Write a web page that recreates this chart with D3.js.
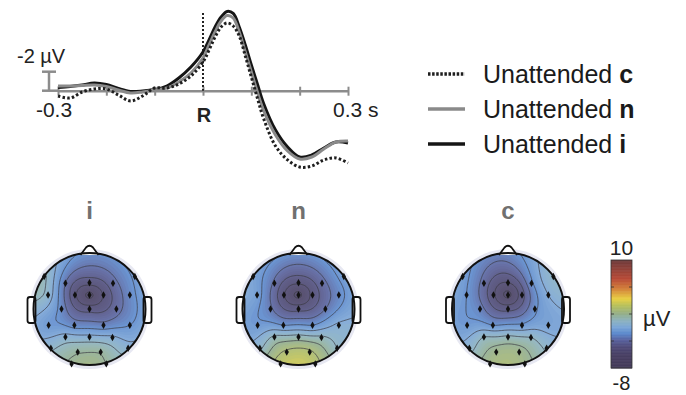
<!DOCTYPE html>
<html>
<head>
<meta charset="utf-8">
<script src="https://cdn.jsdelivr.net/npm/d3@7"></script>
<style>
  body { margin: 0; background: #fff; }
  svg { display: block; font-family: 'Liberation Sans', Arial, sans-serif; }
</style>
</head>
<body>
<svg id="chart" width="686" height="395"></svg>
<script>
// ERP time points (s, 0 = R) and amplitudes (µV, negative plotted up)
const times = [-0.3, -0.275, -0.25, -0.225, -0.2, -0.175, -0.15, -0.125, -0.1, -0.075, -0.05, -0.025,
  0, 0.0125, 0.025, 0.0375, 0.05, 0.0625, 0.075, 0.0875, 0.1, 0.1125, 0.125,
  0.15, 0.175, 0.2, 0.225, 0.25, 0.275, 0.3];
const erpC = [0.56, 0.77, 0.14, -0.18, -0.18, 0.45, 1.08, 0.56, -0.28, -0.28, -0.71, -1.55,
  -3.02, -4.28, -5.65, -6.71, -7.13, -6.81, -5.76, -3.65, -1.44, 0.77, 2.87,
  5.82, 7.29, 8.03, 7.93, 7.29, 7.08, 7.61];
const erpN = [-0.49, -0.49, -0.55, -0.60, -0.44, -0.07, 0.24, 0.14, -0.07, -0.28, -0.92, -1.86,
  -3.44, -4.81, -6.18, -7.34, -7.92, -7.65, -6.18, -4.07, -1.97, 0.14, 2.03,
  4.66, 6.35, 7.19, 6.98, 6.14, 5.40, 5.29];
const erpI = [-0.34, -0.44, -0.60, -0.81, -0.65, -0.23, 0.08, 0.03, -0.13, -0.49, -1.34, -2.49,
  -4.07, -5.34, -6.71, -7.76, -8.34, -8.13, -6.71, -4.81, -2.71, -0.71, 1.29,
  4.14, 5.93, 6.98, 6.77, 6.03, 5.39, 5.50];
const xTicks = [-0.3, -0.2, -0.1, 0, 0.1, 0.2, 0.3];
const legendNames = ['Unattended ', 'Unattended ', 'Unattended '];
const legendKeys = ['c', 'n', 'i'];

// electrode layout (x, y in head radii, y down) and topography values (µV)
const electrodes = [
  [-0.81, -0.58], [0.81, -0.58], [-0.43, -0.46], [0, -0.47], [0.42, -0.46],
  [-0.74, -0.25], [-0.26, -0.25], [0, -0.25], [0.25, -0.25], [0.72, -0.25],
  [-0.5, 0.0], [0, 0.0], [0.48, 0.0],
  [-0.73, 0.29], [-0.27, 0.29], [0.25, 0.29], [0.72, 0.29],
  [-0.43, 0.5], [0, 0.5], [0.41, 0.51],
  [-0.69, 0.7], [0.69, 0.7], [-0.21, 0.77], [0.2, 0.77], [-0.32, 0.98], [0.3, 0.98]
];
const topoI = [0.2, -1.8, -3.0, -4.6, -3.4, -0.4, -4.8, -6.2, -4.9, -2.4,
  -2.4, -4.4, -3.4, -1.8, -2.4, -2.6, -2.0, -0.6, -0.7, -0.8,
  -0.2, -0.6, 0.9, 0.9, 1.2, 1.0];
const topoN = [-1.4, -1.6, -3.2, -4.8, -3.4, -1.6, -4.9, -6.2, -4.7, -2.4,
  -2.8, -4.3, -3.0, -1.8, -2.0, -2.0, -0.8, 0.2, 0.4, 0.2,
  -0.2, 0.0, 2.2, 2.2, 2.6, 2.4];
const topoC = [-1.6, -0.2, -3.4, -5.0, -2.2, -2.0, -4.8, -6.2, -4.4, -1.0,
  -2.6, -4.3, -2.2, -1.8, -2.0, -1.8, -1.4, 0.0, 0.2, 0.0,
  -0.4, -0.2, 1.4, 1.4, 1.6, 1.4];
const topoTitles = ['i', 'n', 'c'];
const colorDomain = [-8, 10];
const contourLevels = [-6, -5, -4, -3, -2, -1, 0, 1, 2];

// colour map stops
const cmapStops = [-8, -5.8, -4.4, -3.3, -2.2, -1.1, 0, 1.1, 2.5, 3.6, 5.3, 6.9, 10];
const cmapColors = ['#433a58', '#473e62', '#4e4a78', '#57609c', '#5a88cc', '#7aa5d6', '#8cb2bd',
  '#93ae88', '#b8c05a', '#e8cf42', '#d27f38', '#b84a36', '#6e3a3a'];

const svg = d3.select('#chart');
const color = d3.scaleLinear().domain(cmapStops).range(cmapColors).clamp(true);

// ---- ERP panel ----
const x = d3.scaleLinear().domain([-0.3, 0.3]).range([58, 348]);
const y = d3.scaleLinear().domain([-2, 0]).range([71.7, 90.7]);
const axisGrey = '#8c8c8c';

const axis = svg.append('g')
  .attr('transform', `translate(0,${y(0)})`)
  .call(d3.axisBottom(x).tickValues(xTicks).tickSizeOuter(0).tickFormat(''));
axis.select('.domain').attr('stroke', axisGrey).attr('stroke-width', 2.5);
axis.selectAll('.tick line')
  .attr('stroke', axisGrey).attr('stroke-width', 2)
  .attr('y1', -4).attr('y2', 5);

svg.append('text').attr('x', x(-0.3) - 4).attr('y', 117)
  .attr('text-anchor', 'middle').attr('font-size', 21).attr('fill', '#222').text('-0.3');
svg.append('text').attr('x', x(0) + 1).attr('y', 122)
  .attr('text-anchor', 'middle').attr('font-size', 20).attr('font-weight', 'bold')
  .attr('fill', '#222').text('R');
svg.append('text').attr('x', x(0.3) - 15).attr('y', 117)
  .attr('font-size', 21).attr('fill', '#222').text('0.3 s');

// scale bar
const sb = svg.append('g').attr('stroke', axisGrey).attr('stroke-width', 2.5);
sb.append('line').attr('x1', 49).attr('x2', 49).attr('y1', y(-2)).attr('y2', y(0));
sb.append('line').attr('x1', 42).attr('x2', 56).attr('y1', y(-2)).attr('y2', y(-2));
sb.append('line').attr('x1', 42).attr('x2', 58).attr('y1', y(0)).attr('y2', y(0));
svg.append('text').attr('x', 17).attr('y', 63).attr('font-size', 20).attr('fill', '#222').text('-2 µV');

// R marker
svg.append('line')
  .attr('x1', x(0)).attr('x2', x(0)).attr('y1', 13).attr('y2', y(0))
  .attr('stroke', '#222').attr('stroke-width', 2).attr('stroke-dasharray', '2,2');

const line = d3.line()
  .x((d, i) => x(times[i]))
  .y(d => y(d))
  .curve(d3.curveCatmullRom);

const series = [
  { vals: erpI, stroke: '#151515', dash: null },
  { vals: erpN, stroke: '#8a8a8a', dash: null },
  { vals: erpC, stroke: '#1e1e1e', dash: '2.5,2.2' },
];
series.forEach(s => {
  svg.append('path')
    .attr('d', line(s.vals))
    .attr('fill', 'none')
    .attr('stroke', s.stroke)
    .attr('stroke-width', 3)
    .attr('stroke-dasharray', s.dash);
});

// legend
const legendStyle = [
  { stroke: '#1e1e1e', dash: '2.5,1.6' },
  { stroke: '#8a8a8a', dash: null },
  { stroke: '#151515', dash: null },
];
legendKeys.forEach((k, i) => {
  const ly = 74 + i * 35;
  svg.append('line')
    .attr('x1', 428).attr('x2', 465).attr('y1', ly).attr('y2', ly)
    .attr('stroke', legendStyle[i].stroke).attr('stroke-width', 3.5)
    .attr('stroke-dasharray', legendStyle[i].dash);
  const t = svg.append('text').attr('x', 483).attr('y', ly + 8.5)
    .attr('font-size', 25).attr('fill', '#1a1a1a');
  t.append('tspan').text(legendNames[i]);
  t.append('tspan').attr('font-weight', 'bold').text(k);
});

// ---- topographic maps ----
const heads = [
  { vals: topoI, cx: 89.5 },
  { vals: topoN, cx: 298.5 },
  { vals: topoC, cx: 508 },
];
const cy = 309, r = 56;
const n = 90, ext = 1.15;

// biharmonic spline (as in griddata 'v4')
const green = (d) => (d < 1e-9 ? 0 : d * d * (Math.log(d) - 1));
const solve = (A, b) => {
  const m = b.length;
  const M = A.map((row, i) => row.concat([b[i]]));
  for (let c = 0; c < m; c++) {
    let p = c;
    for (let i = c + 1; i < m; i++) if (Math.abs(M[i][c]) > Math.abs(M[p][c])) p = i;
    [M[c], M[p]] = [M[p], M[c]];
    for (let i = c + 1; i < m; i++) {
      const f = M[i][c] / M[c][c];
      for (let k = c; k <= m; k++) M[i][k] -= f * M[c][k];
    }
  }
  const w = new Array(m).fill(0);
  for (let i = m - 1; i >= 0; i--) {
    let s = M[i][m];
    for (let k = i + 1; k < m; k++) s -= M[i][k] * w[k];
    w[i] = s / M[i][i];
  }
  return w;
};
const dist = (a, b) => Math.hypot(a[0] - b[0], a[1] - b[1]);
const G = electrodes.map(a => electrodes.map(b => green(dist(a, b))));

const field = (vals) => {
  const w = solve(G, vals);
  const grid = new Array(n * n);
  for (let j = 0; j < n; j++) {
    for (let i = 0; i < n; i++) {
      const p = [-ext + (i + 0.5) / n * 2 * ext, -ext + (j + 0.5) / n * 2 * ext];
      let s = 0;
      electrodes.forEach((e, k) => { s += w[k] * green(dist(p, e)); });
      grid[j * n + i] = s;
    }
  }
  return grid;
};

const fillLevels = d3.range(colorDomain[0], colorDomain[1] + 0.001, 0.2);

heads.forEach((h, hi) => {
  const g = svg.append('g');
  const clipId = `clip-${hi}`;
  svg.append('clipPath').attr('id', clipId)
    .append('circle').attr('cx', h.cx).attr('cy', cy).attr('r', r);

  // halo
  g.append('circle').attr('cx', h.cx).attr('cy', cy).attr('r', r + 4)
    .attr('fill', '#e7e8f2');

  const proj = d3.geoIdentity()
    .scale(r * 2 * ext / n)
    .translate([h.cx - r * ext, cy - r * ext]);
  const path = d3.geoPath(proj);
  const grid = field(h.vals);

  const fills = g.append('g').attr('clip-path', `url(#${clipId})`).attr('opacity', 0.88);
  fills.append('circle').attr('cx', h.cx).attr('cy', cy).attr('r', r).attr('fill', color(colorDomain[0]));
  fills.selectAll('path')
    .data(d3.contours().size([n, n]).thresholds(fillLevels)(grid))
    .join('path')
    .attr('d', path)
    .attr('fill', d => color(d.value));

  g.append('g').attr('clip-path', `url(#${clipId})`)
    .selectAll('path')
    .data(d3.contours().size([n, n]).thresholds(contourLevels)(grid))
    .join('path')
    .attr('d', path)
    .attr('fill', 'none')
    .attr('stroke', '#3c3c44')
    .attr('stroke-width', 0.9)
    .attr('stroke-opacity', 0.8);

  // ears and nose
  [-1, 1].forEach(side => {
    g.append('rect')
      .attr('x', side < 0 ? h.cx - r - 6 : h.cx + r - 2)
      .attr('y', cy - 12).attr('width', 8).attr('height', 26).attr('rx', 2.5)
      .attr('fill', '#fff').attr('stroke', '#111').attr('stroke-width', 1.8);
  });
  const ny = cy - r + 2;
  g.append('path')
    .attr('d', `M${h.cx - 9},${ny} L${h.cx - 3.5},${ny - 7.5} Q${h.cx},${ny - 11} ${h.cx + 3.5},${ny - 7.5} L${h.cx + 9},${ny}`)
    .attr('fill', '#fff').attr('stroke', '#111').attr('stroke-width', 1.8);

  g.append('circle').attr('cx', h.cx).attr('cy', cy).attr('r', r)
    .attr('fill', 'none').attr('stroke', '#111').attr('stroke-width', 2);

  g.selectAll('.el')
    .data(electrodes)
    .join('path')
    .attr('class', 'el')
    .attr('transform', d => `translate(${h.cx + d[0] * r},${cy + d[1] * r})`)
    .attr('d', d3.symbol().type(d3.symbolDiamond).size(16))
    .attr('fill', '#111');

  svg.append('text').attr('x', h.cx).attr('y', 219)
    .attr('text-anchor', 'middle').attr('font-size', 24).attr('font-weight', 'bold')
    .attr('fill', '#707070').text(topoTitles[hi]);
});

// ---- colour bar ----
const cb = d3.scaleLinear().domain(colorDomain).range([368, 260]);
const cbx = 611, cbw = 21;
svg.append('g').selectAll('rect')
  .data(d3.range(colorDomain[0], colorDomain[1], 0.1))
  .join('rect')
  .attr('x', cbx).attr('width', cbw)
  .attr('y', d => cb(d + 0.1)).attr('height', cb(0) - cb(0.1) + 0.5)
  .attr('fill', d => color(d + 0.05));
svg.append('rect').attr('x', cbx).attr('y', cb(10)).attr('width', cbw).attr('height', cb(-8) - cb(10))
  .attr('fill', 'none').attr('stroke', '#333').attr('stroke-width', 0.8);
[0.25, 0.5, 0.75].forEach(f => {
  const v = colorDomain[0] + f * (colorDomain[1] - colorDomain[0]);
  svg.append('line').attr('x1', cbx).attr('x2', cbx + 3).attr('y1', cb(v)).attr('y2', cb(v))
    .attr('stroke', '#333').attr('stroke-width', 0.8);
  svg.append('line').attr('x1', cbx + cbw - 3).attr('x2', cbx + cbw).attr('y1', cb(v)).attr('y2', cb(v))
    .attr('stroke', '#333').attr('stroke-width', 0.8);
});
svg.append('text').attr('x', cbx + cbw / 2).attr('y', 255).attr('text-anchor', 'middle')
  .attr('font-size', 21).attr('fill', '#222').text(colorDomain[1]);
svg.append('text').attr('x', cbx + cbw / 2).attr('y', 390).attr('text-anchor', 'middle')
  .attr('font-size', 20).attr('fill', '#222').text(colorDomain[0]);
svg.append('text').attr('x', 643).attr('y', 326)
  .attr('font-size', 22).attr('fill', '#222').text('µV');
</script>
</body>
</html>
